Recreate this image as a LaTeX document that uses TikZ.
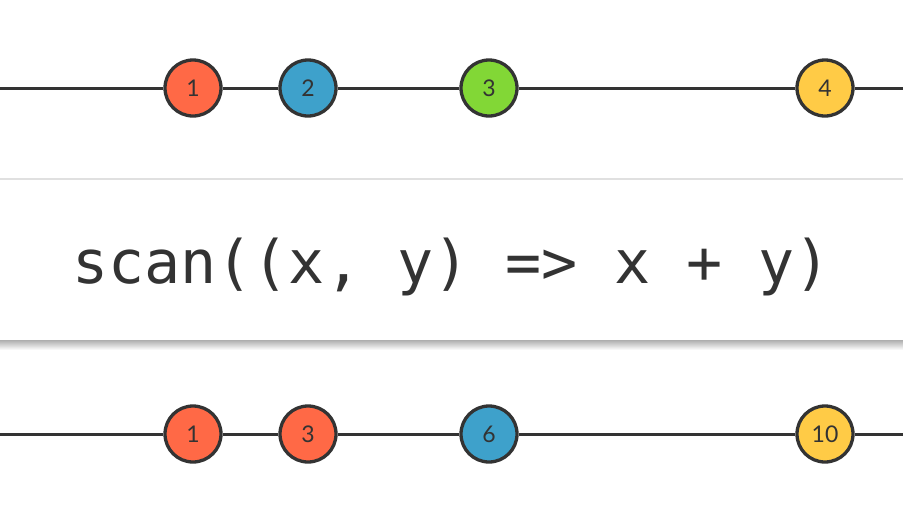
\documentclass[tikz,border=0pt]{standalone}
\usepackage{fontspec}
\setmainfont{Lato}
\setmonofont{DejaVu Sans Mono}
\definecolor{ink}{HTML}{333333}
\definecolor{mred}{HTML}{FF6946}
\definecolor{mblue}{HTML}{3EA1CB}
\definecolor{mgreen}{HTML}{82D736}
\definecolor{myellow}{HTML}{FFCB46}
\tikzset{
  marble/.style={circle, draw=ink, line width=3.3pt, minimum size=56pt, inner sep=0pt,
    text=ink, font=\fontsize{23}{23}\selectfont},
  timeline/.style={draw=ink, line width=3pt},
}
\begin{document}
\begin{tikzpicture}[x=1pt, y=-1pt]
    \useasboundingbox (0,0) rectangle (903,515);
    % 入力の時間軸
    \coordinate (ta) at (0,88);
    \coordinate (tb) at (903,88);
    \node[marble, fill=mred]    (t1) at (193,88) {1};
    \node[marble, fill=mblue]   (t2) at (308,88) {2};
    \node[marble, fill=mgreen]  (t3) at (489,88) {3};
    \node[marble, fill=myellow] (t4) at (825,88) {4};
    \draw[timeline] (ta) -- (t1) -- (t2) -- (t3) -- (t4) -- (tb);

    % 演算子の箱
    \shade[top color=black!35, bottom color=white] (0,339) rectangle (903,350);
    \fill[black!12] (0,178) rectangle (903,180);
    \node[fill=white, minimum width=903pt, minimum height=160pt, inner sep=0pt] (op) at (451.5,260) {};
    \node[anchor=base, text=ink, font=\ttfamily\fontsize{60}{60}\selectfont] (lbl) at (451.5,283)
      {scan((x,\ y)\ =>\ x\ +\ y)};

    % 出力の時間軸
    \coordinate (ba) at (0,434);
    \coordinate (bb) at (903,434);
    \node[marble, fill=mred]    (b1) at (193,434) {1};
    \node[marble, fill=mred]    (b2) at (308,434) {3};
    \node[marble, fill=mblue]   (b3) at (489,434) {6};
    \node[marble, fill=myellow] (b4) at (825,434) {10};
    \draw[timeline] (ba) -- (b1) -- (b2) -- (b3) -- (b4) -- (bb);
\end{tikzpicture}
\end{document}
